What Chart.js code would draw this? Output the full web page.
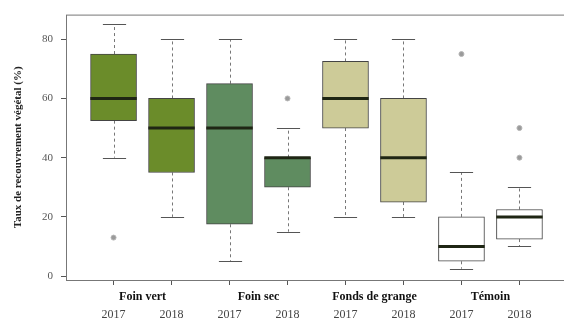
<!DOCTYPE html>
<html>
<head>
<meta charset="utf-8">
<script src="https://cdn.jsdelivr.net/npm/chart.js@4.4.0/dist/chart.umd.min.js"></script>
<style>
  html, body { margin: 0; padding: 0; background: #fff; overflow: hidden; }
  #wrap { width: 564px; height: 323px; overflow: hidden; }
</style>
</head>
<body>
<div id="wrap"><canvas id="chart" width="572" height="323"></canvas></div>
<script>
// boxplot data
var groups = ['Foin vert', 'Foin sec', 'Fonds de grange', 'Témoin'];
var years = ['2017', '2018', '2017', '2018', '2017', '2018', '2017', '2018'];
var positions = [1, 2, 3, 4, 5, 6, 7, 8];
var whiskerLow = [40, 20, 5, 15, 20, 20, 2.5, 10];
var q1 = [52.5, 35, 17.5, 30, 50, 25, 5, 12.5];
var median = [60, 50, 50, 40, 60, 40, 10, 20];
var q3 = [75, 60, 65, 40, 72.5, 60, 20, 22.5];
var whiskerHigh = [85, 80, 80, 50, 80, 80, 35, 30];
var outlierX = [1, 4, 7, 8, 8];
var outlierY = [13, 60, 75, 50, 40];
var yTicks = [0, 20, 40, 60, 80];

var boxColors = ['#6b8c2a', '#6b8c2a', '#5f8c60', '#5f8c60', '#cdcb98', '#cdcb98', '#ffffff', '#ffffff'];

var boxes = positions.map(function (p, i) { return {x: p, y: [q1[i], q3[i]]}; });
var outliers = outlierX.map(function (p, i) { return {x: p, y: outlierY[i]}; });

var serif = '"Liberation Serif", "DejaVu Serif", serif';

// whiskers, caps and medians, drawn through the chart scales
var boxExtras = {
  id: 'boxExtras',
  beforeDatasetsDraw: function (chart) {
    var c = chart.ctx, a = chart.chartArea;
    var xs = chart.scales.x, ys = chart.scales.y;
    c.save();
    c.strokeStyle = '#777';
    c.lineWidth = 1;
    c.strokeRect(a.left + 0.5, a.top + 0.5, a.right - a.left, a.bottom - a.top);
    positions.forEach(function (p, i) {
      var x = Math.round(xs.getPixelForValue(p)) + 0.5;
      c.strokeStyle = '#777';
      c.setLineDash([3, 3]);
      c.beginPath();
      c.moveTo(x, ys.getPixelForValue(q3[i]));
      c.lineTo(x, ys.getPixelForValue(whiskerHigh[i]));
      c.moveTo(x, ys.getPixelForValue(q1[i]));
      c.lineTo(x, ys.getPixelForValue(whiskerLow[i]));
      c.stroke();
      c.setLineDash([]);
      c.strokeStyle = '#555';
      var w = xs.getPixelForValue(p + 0.2) - xs.getPixelForValue(p);
      [whiskerHigh[i], whiskerLow[i]].forEach(function (v) {
        var y = Math.round(ys.getPixelForValue(v)) + 0.5;
        c.beginPath();
        c.moveTo(x - w, y);
        c.lineTo(x + w, y);
        c.stroke();
      });
    });
    c.restore();
  },
  afterDatasetsDraw: function (chart) {
    var c = chart.ctx;
    var xs = chart.scales.x, ys = chart.scales.y;
    c.save();
    c.strokeStyle = '#1f2614';
    c.lineWidth = 3;
    positions.forEach(function (p, i) {
      var w = xs.getPixelForValue(p + 0.4) - xs.getPixelForValue(p);
      var x = xs.getPixelForValue(p);
      var y = ys.getPixelForValue(median[i]);
      c.beginPath();
      c.moveTo(x - w, y);
      c.lineTo(x + w, y);
      c.stroke();
    });
    c.restore();
  }
};

var xTickValues = [1, 1.5, 2, 3, 3.5, 4, 5, 5.5, 6, 7, 7.5, 8];

new Chart('chart', {
  type: 'bar',
  data: {
    datasets: [
      {
        type: 'bar',
        data: boxes,
        backgroundColor: boxColors,
        borderColor: '#444',
        borderWidth: 1,
        borderSkipped: false,
        barThickness: 46,
        order: 2
      },
      {
        type: 'scatter',
        data: outliers,
        pointRadius: 2.5,
        pointBackgroundColor: '#9a9a9a',
        pointBorderColor: '#b5b5b5',
        pointBorderWidth: 1,
        order: 1
      }
    ]
  },
  options: {
    responsive: false,
    animation: false,
    layout: { padding: { top: 13, right: 4, left: 0, bottom: 0 } },
    plugins: { legend: { display: false }, tooltip: { enabled: false } },
    scales: {
      x: {
        type: 'linear',
        offset: false,
        min: 0.18,
        max: 8.82,
        afterBuildTicks: function (scale) {
          scale.ticks = xTickValues.map(function (v) { return {value: v}; });
        },
        afterFit: function (scale) { scale.height = 43; },
        border: { display: false },
        grid: {
          offset: false,
          drawOnChartArea: false,
          tickLength: 5,
          tickColor: function (ctx) {
            return ctx.tick && ctx.tick.value % 1 === 0 ? '#555' : 'rgba(0,0,0,0)';
          }
        },
        ticks: {
          autoSkip: false,
          maxRotation: 0,
          minRotation: 0,
          padding: 3,
          color: function (ctx) {
            return ctx.tick && ctx.tick.value % 1 === 0 ? '#444' : '#111';
          },
          font: function (ctx) {
            var bold = ctx.tick && ctx.tick.value % 1 !== 0;
            return { family: serif, size: 12, weight: bold ? 'bold' : 'normal', lineHeight: 1.5 };
          },
          callback: function (v) {
            if (v % 1 === 0) return ['', years[v - 1]];
            return groups[Math.floor(v / 2)];
          }
        }
      },
      y: {
        min: -1.32,
        max: 88.32,
        afterBuildTicks: function (scale) {
          scale.ticks = yTicks.map(function (v) { return {value: v}; });
        },
        afterFit: function (scale) { scale.width = 66; },
        border: { display: false },
        grid: { drawOnChartArea: false, tickLength: 5, tickColor: '#555' },
        ticks: {
          padding: 8,
          color: '#555',
          font: { family: serif, size: 11 }
        },
        title: {
          display: true,
          text: 'Taux de recouvrement végétal (%)',
          color: '#222',
          font: { family: serif, size: 11, weight: 'bold' },
          padding: { top: 12, bottom: 4 }
        }
      }
    }
  },
  plugins: [boxExtras]
});
</script>
</body>
</html>
